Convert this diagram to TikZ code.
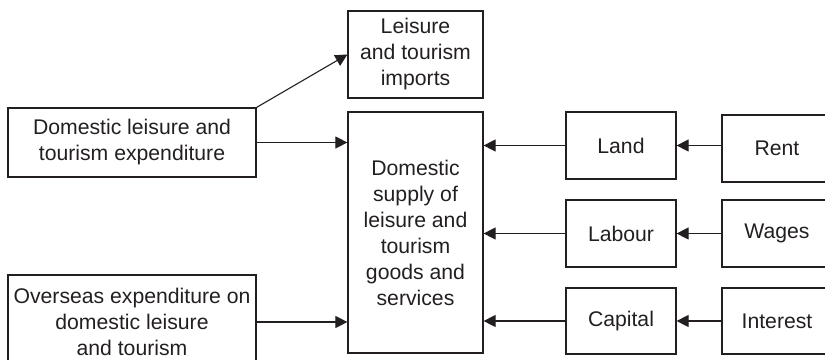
\documentclass[tikz,border=0pt]{standalone}
\usepackage{fontspec}
\setmainfont{Liberation Sans}
\usetikzlibrary{arrows.meta}
\definecolor{ink}{RGB}{35,31,32}
\begin{document}
\begin{tikzpicture}[x=1pt,y=-1pt,
  box/.style={draw=ink,line width=1.2pt,inner sep=0pt,align=center,text=ink,
    font=\fontsize{21.2}{26}\selectfont},
  conn/.style={draw=ink,line width=1.1pt,-{Triangle[length=12pt,width=12pt]}}]
\useasboundingbox (0,0) rectangle (825,359);
\clip (0,0) rectangle (825,359);
\node[box,minimum width=135pt,minimum height=87pt] (imp) at (415.5,54.5) {Leisure\\and tourism\\imports};
\node[box,minimum width=248pt,minimum height=69pt] (dom) at (132,142.5) {Domestic leisure and\\tourism expenditure};
\node[box,minimum width=135pt,minimum height=241pt] (sup) at (415.5,232.5) {Domestic\\supply of\\leisure and\\tourism\\goods and\\services};
\node[box,minimum width=248pt,minimum height=94pt] (ovs) at (132,322) {Overseas expenditure on\\domestic leisure\\and tourism};
\node[box,minimum width=110pt,minimum height=67pt] (land) at (621,145.5) {Land};
\node[box,minimum width=110pt,minimum height=67pt] (lab) at (621,233.5) {Labour};
\node[box,minimum width=110pt,minimum height=66pt] (cap) at (621,321) {Capital};
\node[box,minimum width=110pt,minimum height=67pt] (rent) at (777,148.5) {Rent};
\node[box,minimum width=110pt,minimum height=67pt] (wag) at (777,233.5) {Wages};
\node[box,minimum width=110pt,minimum height=66pt] (int) at (777,321) {Interest};
\draw[conn] (dom.north east) -- (imp.west);
\draw[conn] (dom.east) -- (dom.east -| sup.west);
\draw[conn] (ovs.east) -- (ovs.east -| sup.west);
\draw[conn] (land.west) -- (land.west -| sup.east);
\draw[conn] (lab.west) -- (lab.west -| sup.east);
\draw[conn] (cap.west) -- (cap.west -| sup.east);
\draw[conn] (rent.west |- land.east) -- (land.east);
\draw[conn] (wag.west |- lab.east) -- (lab.east);
\draw[conn] (int.west |- cap.east) -- (cap.east);
\end{tikzpicture}
\end{document}
